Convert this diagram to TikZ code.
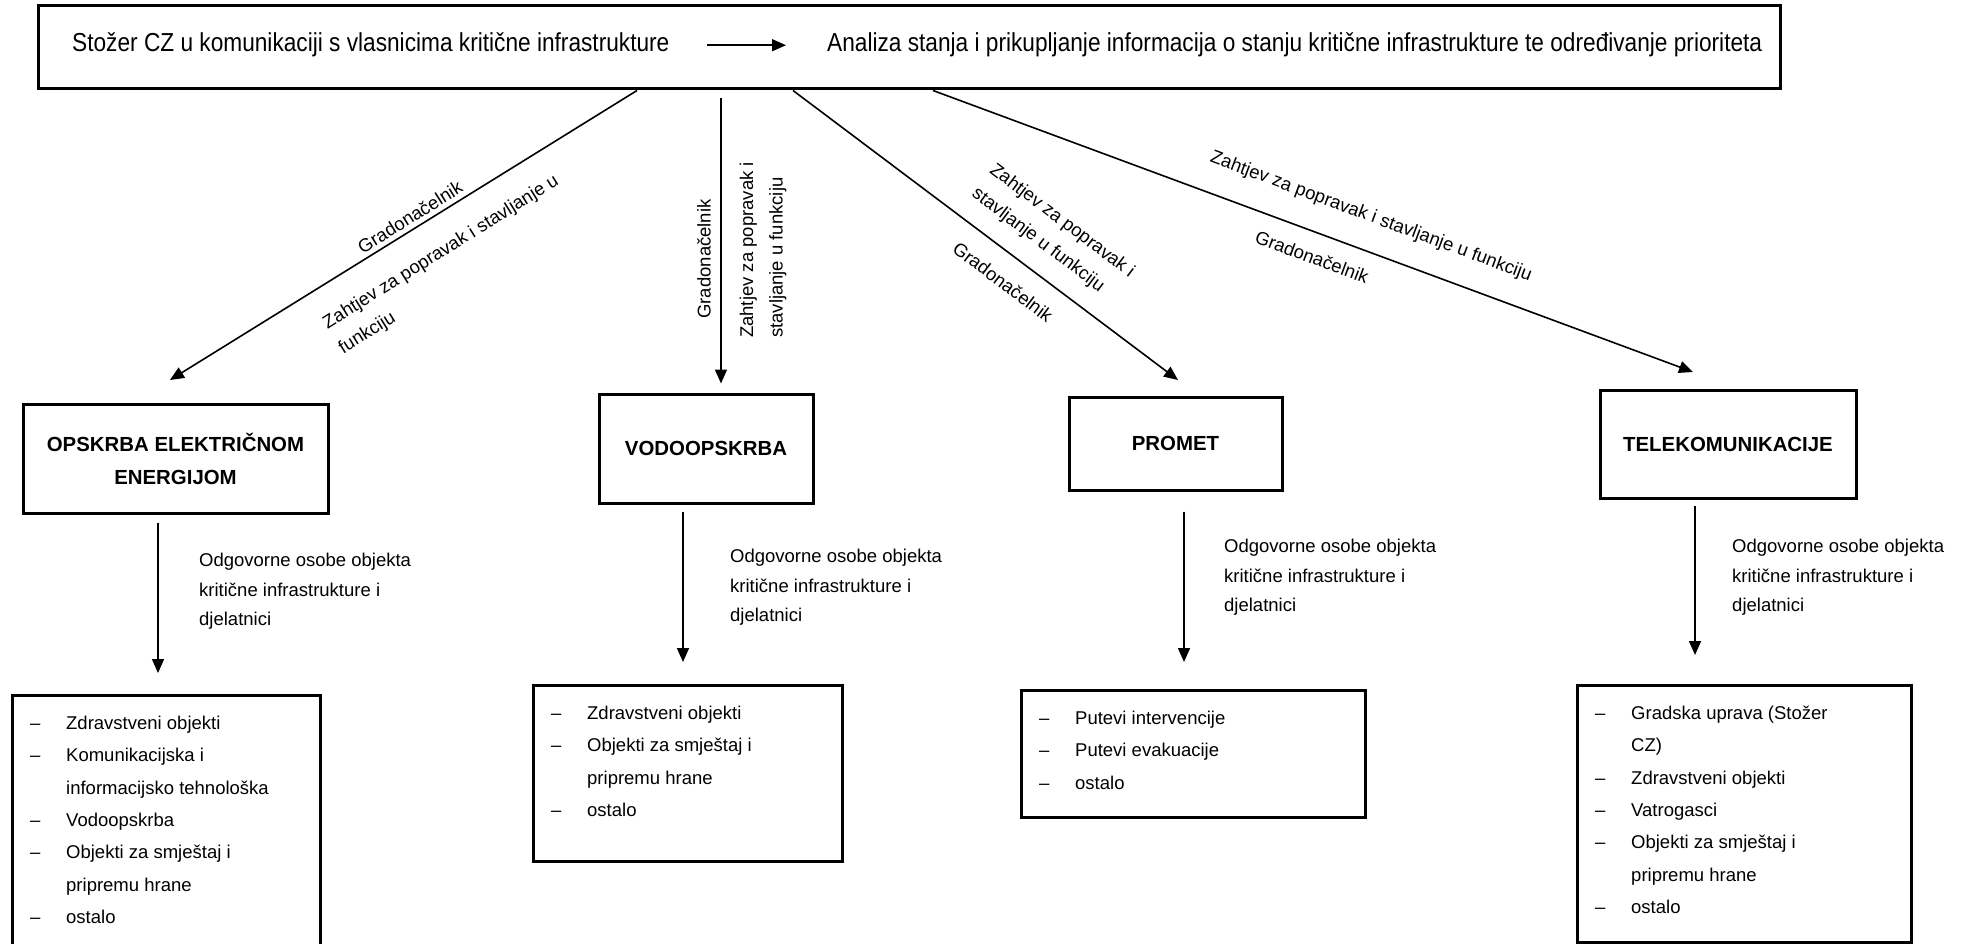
\documentclass[tikz,border=0pt]{standalone}
\usepackage{fontspec}
\setmainfont{Liberation Sans}
\newfontfamily\narrowfont[FakeStretch=0.872]{Liberation Sans}
\usepackage{tikz}
\usetikzlibrary{arrows.meta}
\def\ListItem#1{\makebox[36pt][l]{–}#1}
\def\ListCont#1{\hspace*{36pt}#1}

\begin{document}
\begin{tikzpicture}[x=1pt, y=-1pt,
  mainbox/.style={draw, line width=3pt, minimum width=1742pt, minimum height=83pt, inner sep=0pt},
  sectorbox/.style={draw, line width=3pt, inner sep=0pt, align=center,
     font=\fontsize{20.4}{33}\selectfont\bfseries},
  listbox/.style={draw, line width=3pt, anchor=north west, inner sep=0pt},
  items/.style={anchor=north west, inner sep=0pt, align=left,
     font=\fontsize{18.5}{32.3}\selectfont},
  toptext/.style={anchor=base west, inner sep=0pt, font=\narrowfont\fontsize{26}{30}\selectfont},
  linklabel/.style={inner sep=0pt, font=\fontsize{18.5}{29.5}\selectfont},
  flow/.style={line width=1.6pt, -{Triangle[length=14pt,width=12pt]}}
]
\useasboundingbox (0,0) rectangle (1966,944);

\node[mainbox] (top) at (909,47.5) {};
\node[toptext] (stozer) at (72,52) {Stožer CZ u komunikaciji s vlasnicima kritične infrastrukture};
\node[toptext] (analiza) at (827,52) {Analiza stanja i prikupljanje informacija o stanju kritične infrastrukture te određivanje prioriteta};
\draw[flow] (stozer.east -| 707,0) -- (analiza.west -| 786,0);

\node[sectorbox, minimum width=305pt, minimum height=109pt] (opskrba) at (175.5,458.5) {OPSKRBA ELEKTRIČNOM\\ENERGIJOM};
\node[sectorbox, minimum width=214pt, minimum height=109pt] (vodo) at (706,448.5) {VODOOPSKRBA};
\node[sectorbox, minimum width=213pt, minimum height=93pt] (promet) at (1175.5,443.5) {PROMET};
\node[sectorbox, minimum width=256pt, minimum height=108pt] (telekom) at (1728,444) {TELEKOMUNIKACIJE};

% arrows from the top box
\coordinate (tip1) at (170,380);
\coordinate (tip3) at (1178,380);
\coordinate (tip4) at (1693,372);
\draw[flow] (top.south -| 637,0) -- (tip1);
\draw[flow, shorten <=8pt, shorten >=9pt] (top.south -| 721,0) -- (vodo.north -| 721,0);
\draw[flow] (top.south -| 793,0) -- (tip3);
\draw[flow] (top.south -| 933,0) -- (tip4);

\node[linklabel, rotate=32] (grad1) at (410,217) {Gradonačelnik};
\node[linklabel, rotate=32, align=left] (zaht1) at (449,265) {Zahtjev za popravak i stavljanje u\\funkciju};
\node[linklabel, rotate=90] (grad2) at (704,259) {Gradonačelnik};
\node[linklabel, rotate=90, align=left] (zaht2) at (763,250) {Zahtjev za popravak i\\stavljanje u funkciju};
\node[linklabel, rotate=-37, align=left] (zaht3) at (1053,233) {Zahtjev za popravak i\\stavljanje u funkciju};
\node[linklabel, rotate=-37] (grad3) at (1003,282) {Gradonačelnik};
\node[linklabel, rotate=-20.4] (zaht4) at (1371,217) {Zahtjev za popravak i stavljanje u funkciju};
\node[linklabel, rotate=-20.4] (grad4) at (1312,257) {Gradonačelnik};

\node[listbox, minimum width=308pt, minimum height=270pt] (list1) at (11,694) {};
\node[listbox, minimum width=309pt, minimum height=176pt] (list2) at (532,684) {};
\node[listbox, minimum width=344pt, minimum height=127pt] (list3) at (1020,689) {};
\node[listbox, minimum width=334pt, minimum height=257pt] (list4) at (1576,684) {};

\draw[flow, shorten <=8pt, shorten >=21pt] (opskrba.south -| 158,0) -- (list1.north -| 158,0);
\draw[flow, shorten <=7pt, shorten >=22pt] (vodo.south -| 683,0) -- (list2.north -| 683,0);
\draw[flow, shorten <=20pt, shorten >=27pt] (promet.south -| 1184,0) -- (list3.north -| 1184,0);
\draw[flow, shorten <=6pt, shorten >=29pt] (telekom.south -| 1695,0) -- (list4.north -| 1695,0);

\node[linklabel, anchor=north west, align=left] (odg1) at (199,553) {Odgovorne osobe objekta\\kritične infrastrukture i\\djelatnici};
\node[linklabel, anchor=north west, align=left] (odg2) at (730,549) {Odgovorne osobe objekta\\kritične infrastrukture i\\djelatnici};
\node[linklabel, anchor=north west, align=left] (odg3) at (1224,539) {Odgovorne osobe objekta\\kritične infrastrukture i\\djelatnici};
\node[linklabel, anchor=north west, align=left] (odg4) at (1732,539) {Odgovorne osobe objekta\\kritične infrastrukture i\\djelatnici};

\node[items] (items1) at ([shift={(19,22)}]list1.north west) {\ListItem{Zdravstveni objekti}\\
  \ListItem{Komunikacijska i}\\\ListCont{informacijsko tehnološka}\\
  \ListItem{Vodoopskrba}\\
  \ListItem{Objekti za smještaj i}\\\ListCont{pripremu hrane}\\
  \ListItem{ostalo}};
\node[items] (items2) at ([shift={(19,22)}]list2.north west) {\ListItem{Zdravstveni objekti}\\
  \ListItem{Objekti za smještaj i}\\\ListCont{pripremu hrane}\\
  \ListItem{ostalo}};
\node[items] (items3) at ([shift={(19,22)}]list3.north west) {\ListItem{Putevi intervencije}\\
  \ListItem{Putevi evakuacije}\\
  \ListItem{ostalo}};
\node[items] (items4) at ([shift={(19,22)}]list4.north west) {\ListItem{Gradska uprava (Stožer}\\\ListCont{CZ)}\\
  \ListItem{Zdravstveni objekti}\\
  \ListItem{Vatrogasci}\\
  \ListItem{Objekti za smještaj i}\\\ListCont{pripremu hrane}\\
  \ListItem{ostalo}};
\end{tikzpicture}
\end{document}
